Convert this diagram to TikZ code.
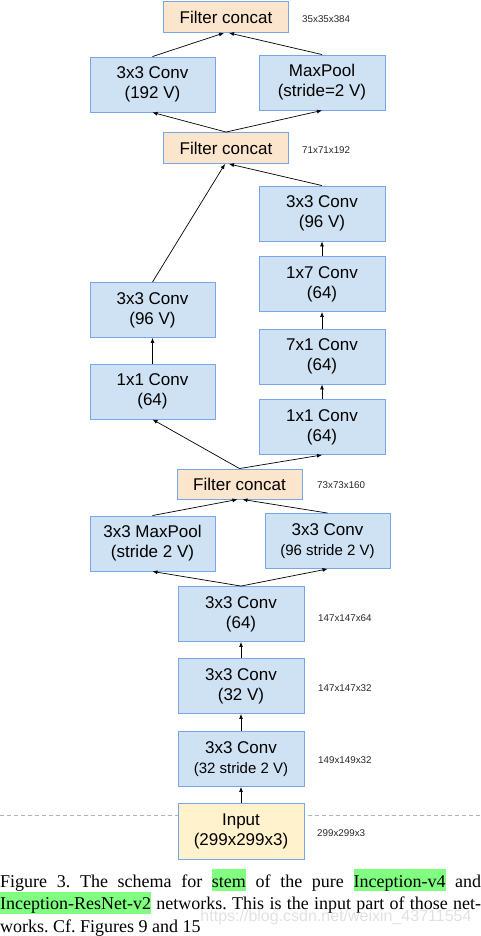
\documentclass[tikz,border=0pt]{standalone}
\usepackage{fontspec}
\usepackage{graphicx}
\setmainfont{Liberation Serif}
\newfontfamily\arialf{Liberation Sans}
\usetikzlibrary{arrows.meta,calc}
\definecolor{bl}{RGB}{207,226,243}
\definecolor{bd}{RGB}{120,165,235}
\definecolor{orf}{RGB}{252,229,205}
\definecolor{yef}{RGB}{255,242,204}
\definecolor{hlg}{RGB}{128,255,128}
\definecolor{lbl}{RGB}{40,40,40}
\frenchspacing
\newcommand\hlt[1]{{\setlength\fboxsep{0pt}\colorbox{hlg}{\rule[-4pt]{0pt}{22pt}#1}}}
\newcommand\smallline[1]{{\fontsize{15}{20}\selectfont #1}}
\begin{document}
\begin{tikzpicture}[x=1pt,y=-1pt,
  blk/.style={draw=bd, fill=bl, line width=0.9pt, minimum width=125pt, minimum height=55pt,
    inner sep=0pt, align=center, font=\arialf\fontsize{17}{20}\selectfont, text=black},
  cat/.style={blk, fill=orf, minimum height=31pt},
  inp/.style={blk, fill=yef, minimum height=56pt},
  arr/.style={-{Latex[length=5pt,width=4pt]}, line width=0.7pt},
  dim/.style={anchor=west, inner sep=0pt, font=\arialf\fontsize{9.8}{11}\selectfont, text=lbl},
  captext/.style={anchor=base west, inner sep=0pt, font=\fontsize{18}{22.5}\selectfont}]
\path[use as bounding box] (0,0) rectangle (481,936);
% dashed separator
\draw[gray!60, dashed, dash pattern=on 4pt off 3pt, line width=0.6pt] (0,815) -- (481,815);
% nodes
\node[cat] (fc1) at (226,17) {Filter concat};
\node[blk] (c192) at (152.5,84.5) {3x3 Conv\\(192 V)};
\node[blk, minimum width=126pt] (mp) at (322,82.5) {MaxPool\\(stride=2 V)};
\node[cat] (fc2) at (226,148) {Filter concat};
\node[blk, minimum width=126pt] (r4) at (322,213.5) {3x3 Conv\\(96 V)};
\node[blk, minimum width=126pt] (r3) at (322,284) {1x7 Conv\\(64)};
\node[blk, minimum width=126pt] (r2) at (322,356.5) {7x1 Conv\\(64)};
\node[blk, minimum width=126pt] (r1) at (322,427) {1x1 Conv\\(64)};
\node[blk] (l2) at (152.5,310) {3x3 Conv\\(96 V)};
\node[blk] (l1) at (152.5,391.5) {1x1 Conv\\(64)};
\node[cat, minimum height=30pt] (fc3) at (239.5,484) {Filter concat};
\node[blk] (mp2) at (152.5,543.5) {3x3 MaxPool\\(stride 2 V)};
\node[blk] (c96) at (327.5,541) {3x3 Conv\\\smallline{(96 stride 2 V)}};
\node[blk, minimum width=126pt] (c64) at (241,614) {3x3 Conv\\(64)};
\node[blk, minimum width=126pt] (c32) at (241,686) {3x3 Conv\\(32 V)};
\node[blk, minimum width=126pt] (c32s) at (241,759) {3x3 Conv\\\smallline{(32 stride 2 V)}};
\node[inp, minimum width=126pt] (in) at (241,831) {Input\\(299x299x3)};
% dimension labels
\node[dim] (d1) at (302,19) {35x35x384};
\node[dim] (d2) at (302,150) {71x71x192};
\node[dim] (d3) at (317,485) {73x73x160};
\node[dim] (d4) at (318,618) {147x147x64};
\node[dim] (d5) at (318,688) {147x147x32};
\node[dim] (d6) at (318,760) {149x149x32};
\node[dim] (d7) at (317,833) {299x299x3};
% arrows
\draw[arr] (c192.north) -- ($(fc1.south)+(-2,0)$);
\draw[arr] (mp.north) -- ($(fc1.south)+(3,0)$);
\draw[arr] (fc2.north) -- (c192.south);
\draw[arr] (fc2.north) -- (mp.south);
\draw[arr] (l2.north) -- ($(fc2.south)+(-1,0)$);
\draw[arr] (r4.north) -- ($(fc2.south)+(3,0)$);
\draw[arr] (r3.north) -- (r4.south);
\draw[arr] (r2.north) -- (r3.south);
\draw[arr] (r1.north) -- (r2.south);
\draw[arr] (l1.north) -- (l2.south);
\draw[arr] (fc3.north) -- (l1.south);
\draw[arr] (fc3.north) -- (r1.south);
\draw[arr] (mp2.north) -- ($(fc3.south)+(-2,0)$);
\draw[arr] (c96.north) -- ($(fc3.south)+(3,0)$);
\draw[arr] (c64.north) -- (mp2.south);
\draw[arr] (c64.north) -- (c96.south);
\draw[arr] (c32.north) -- (c64.south);
\draw[arr] (c32s.north) -- (c32.south);
\draw[arr] (in.north) -- (c32s.south);
% caption
\node[captext] (cap1) at (0,887) {\makebox[481pt][s]{Figure 3. The schema for \hlt{stem} of the pure \hlt{Inception-v4} and}};
\node[captext] (cap2) at (0,909.5) {\makebox[481pt][s]{\hlt{Inception-ResNet-v2} networks. This is the input part of those net-}};
\node[captext] (cap3) at (0,932) {works. Cf. Figures 9 and 15};
% watermark
\node[inner sep=0pt, text=gray!30, opacity=0.8, font=\arialf\fontsize{16}{18}\selectfont] (wm) at (336,917) {https://blog.csdn.net/weixin\_43711554};
\end{tikzpicture}
\end{document}
